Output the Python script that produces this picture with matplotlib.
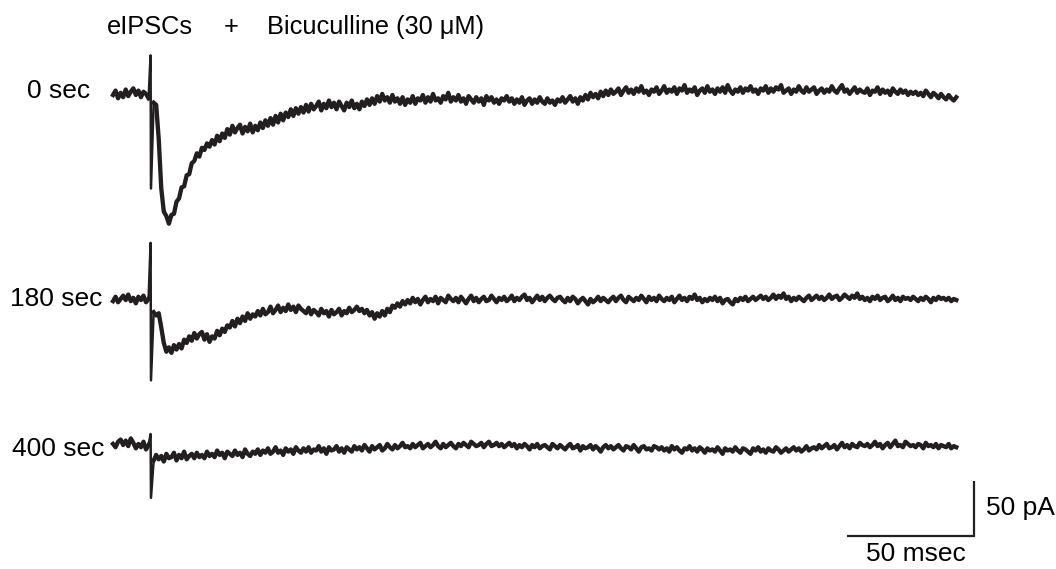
import numpy as np
import matplotlib
matplotlib.use("Agg")
from matplotlib import pyplot as plt

plt.rcParams['font.family'] = ['Liberation Sans', 'DejaVu Sans']

# sampling (ms) and stimulus time (ms)
dt = 1
stim_t = 14.8
post_start = 16
sweep_labels = ["0 sec", "180 sec", "400 sec"]

# pre-stimulus samples (t = 0..14 ms), pA relative to baseline
pre_0 = [0, 4, -3, 2, -2, 5, -1, 3, 6, 0, 4, -2, 3, 1, -3]
pre_180 = [-1, 3, -2, 1, 4, 0, 5, -1, 2, -3, 3, 0, 4, -2, 1]
pre_400 = [1, -2, 3, 5, 0, 4, -1, 6, 2, -3, 1, -2, 3, -4, 0]

# stimulus artefact (top, bottom), pA
art_0 = [36, -85]
art_180 = [52, -73]
art_400 = [10, -48]

# post-stimulus samples (t = 16..332 ms), pA
post_0 = [-7, -9, -40, -85, -106, -110, -117, -109, -108, -97, -94, -84, -83, -73, -72, -62, -60, -53, -56, -48,
          -50, -44, -47, -41, -45, -37, -42, -35, -39, -31, -36, -28, -34, -30, -27, -35, -29, -33, -26, -34,
          -28, -32, -25, -30, -23, -28, -21, -27, -19, -25, -17, -23, -16, -20, -13, -19, -12, -17, -11, -16,
          -9, -15, -8, -13, -10, -6, -14, -8, -12, -5, -11, -7, -13, -6, -10, -14, -7, -11, -5, -12,
          -8, -13, -6, -10, -4, -9, -3, -8, -1, -6, 1, -5, -2, -7, 0, -6, -3, -8, -2, -9,
          -4, -7, -1, -8, -3, -5, 0, -7, -2, -6, 1, -5, -3, -7, -1, -4, 2, -6, -2, -5,
          0, -6, -3, -8, -1, -4, -7, -2, -6, -3, -9, -1, -5, -2, -7, -4, -8, -3, -5, -1,
          -6, -3, -8, -4, -7, -2, -9, -5, -3, -8, -4, -7, -2, -6, -8, -3, -7, -5, -9, -4,
          -6, -2, -7, -4, -1, -6, -3, -8, -2, -5, 0, -4, 2, -2, 1, -3, 3, -1, 4, 0,
          5, 1, 3, 6, 0, 4, 7, 2, 5, 1, 6, 3, 8, 2, 4, 0, 5, 3, 7, 1,
          4, 8, 2, 5, 3, 7, 1, 6, 4, 9, 2, 5, 3, 7, 0, 4, 6, 2, 8, 3,
          5, 1, 6, 3, 7, 2, 9, 4, 1, 5, 3, 7, 2, 6, 4, 8, 3, 5, 1, 6,
          4, 8, 2, 6, 3, 7, 5, 9, 2, 4, 6, 1, 5, 3, 8, 4, 2, 7, 3, 5,
          7, 1, 4, 6, 2, 5, 3, 8, 4, 2, 6, 9, 3, 5, 1, 4, 7, 2, 5, 3,
          2, 6, 0, 4, 3, 7, 1, 5, 2, 4, 0, 6, 3, 1, 5, 2, 4, 0, 3, 1,
          3, 0, 2, -1, 4, 1, -2, 2, 0, -3, 1, -2, -4, 0, -3, -5, -2]
post_180 = [-11, -14, -12, -25, -39, -47, -43, -48, -41, -45, -40, -44, -36, -39, -33, -37, -30, -35, -31, -29,
            -36, -31, -38, -33, -35, -28, -32, -26, -29, -23, -25, -19, -24, -17, -21, -15, -19, -12, -17, -13,
            -15, -10, -14, -8, -13, -11, -6, -12, -9, -5, -11, -7, -10, -4, -9, -6, -11, -5, -8, -10,
            -12, -7, -13, -9, -11, -14, -8, -12, -10, -15, -9, -13, -11, -8, -14, -10, -12, -7, -11, -9,
            -6, -10, -8, -12, -9, -14, -11, -17, -12, -15, -10, -14, -8, -11, -5, -7, -3, -6, -1, -4,
            0, -3, 2, -2, 1, -4, 0, 3, -2, 1, -1, 3, -3, 2, 0, -2, 4, 1, -1, 2,
            -2, 3, 0, -3, 1, 4, -1, 2, -2, 1, 3, -1, 0, 4, 1, -2, 2, 0, 3, -1,
            1, 4, -1, 2, 0, 3, 5, 0, 2, -2, 1, 4, 0, 3, -1, 2, 4, 1, -1, 2,
            3, 0, -2, 2, -1, 3, 1, -3, 0, 2, -1, -4, 1, -2, 0, 3, -1, 2, 0, -2,
            1, 3, -1, 2, 4, 0, -2, 3, 1, -1, 2, 0, 4, 1, -2, 3, 0, 2, -1, 4,
            1, -1, 2, 0, 3, -2, 1, 4, 0, 2, -1, 3, 1, 5, 0, 2, -2, 1, -1, 2,
            0, 3, -1, 2, -3, 0, 1, -2, -4, 1, -1, 2, 0, 3, -1, 1, 3, 0, 2, 4,
            1, 3, 0, 2, 5, 1, 4, 2, 6, 1, 3, -1, 2, 0, 3, 1, -1, 2, 4, 0,
            2, 4, 1, 3, 0, 2, 5, 1, 3, 4, 0, 2, 5, 3, 1, 4, 2, 6, 1, 3,
            0, 2, -1, 3, 1, 4, 0, 2, 3, -1, 1, 4, 0, 2, -1, 3, 1, 2, 0, 3,
            1, -1, 2, 0, 3, 1, -2, 2, 0, 3, 1, 2, 0, 2, -1, 1, 0]
post_400 = [-14, -9, -13, -10, -15, -8, -12, -11, -7, -14, -9, -12, -6, -13, -10, -8, -12, -7, -11, -9,
            -12, -6, -10, -8, -11, -5, -9, -7, -12, -6, -8, -10, -5, -9, -7, -11, -4, -8, -10, -6,
            -8, -4, -9, -5, -7, -3, -8, -6, -2, -7, -5, -9, -3, -6, -4, -8, -2, -5, -7, -3,
            -6, -2, -7, -4, -5, -1, -6, -3, -8, -2, -5, -4, -1, -6, -3, -7, -2, -4, -6, -1,
            -4, -2, -5, 0, -3, -6, -1, -4, -2, 0, -5, -3, 1, -2, -4, 0, -3, -1, 2, -2,
            -1, -3, 1, -2, 0, 2, -3, -1, 1, -2, 0, 3, -1, -3, 1, -2, 0, 2, -1, -3,
            1, -1, 2, 0, -2, 3, 1, -1, 0, 2, -2, 1, 3, -1, 0, 2, -1, 1, -2, 0,
            2, -1, 1, -3, 0, -2, 1, -1, -4, 0, -2, 1, -3, -1, 0, -2, -4, 1, -1, -3,
            0, -2, -4, -1, 1, -3, -2, 0, -5, -1, -3, -2, 0, -4, -1, -3, -6, -2, 0, -3,
            -1, -4, -2, 0, -3, -5, -1, -2, -4, 0, -3, -6, -2, -1, -4, -3, -5, -1, -2, -4,
            -2, -5, -3, -6, -1, -4, -2, -5, -7, -3, -4, -1, -5, -3, -6, -2, -4, -7, -3, -5,
            -4, -6, -2, -5, -8, -3, -5, -4, -6, -2, -5, -7, -3, -4, -6, -8, -3, -5, -2, -6,
            -4, -7, -3, -5, -6, -2, -4, -7, -5, -3, -6, -4, -2, -5, -3, -6, -4, -1, -5, -3,
            -2, -4, 0, -3, -1, 1, -3, -2, 0, -4, -1, 2, -2, 0, -3, 1, -1, -2, 2, 0,
            -1, 1, -2, 0, 3, -1, 1, -3, 0, 2, -2, 1, 4, -1, 0, -2, 3, 1, -1, 0,
            -2, 1, 0, -3, 2, -1, 0, -2, 1, -3, 0, -1, -2, 1, -3, -1, -2]

# vertical offsets of sweeps in the montage (pA)
offsets = [430.9, 244.5, 112.7]
trace_color = "#231f20"

fig = plt.figure(figsize=(10.56, 5.69), dpi=100)
ax = fig.add_axes([0, 0, 1, 1])
ax.set_xlim(-44.49, 371.26)
ax.set_ylim(0, 517.27)
ax.axis("off")

sweeps = [(pre_0, art_0, post_0), (pre_180, art_180, post_180), (pre_400, art_400, post_400)]
for (pre, art, post), off in zip(sweeps, offsets):
    t_pre = np.arange(len(pre)) * dt
    t_post = post_start + np.arange(len(post)) * dt
    pre = np.array(pre) + off
    post = np.array(post) + off
    art = np.array(art) + off
    ax.plot(t_pre, pre, color=trace_color, lw=3.1, solid_joinstyle="round")
    # stimulus artefact: thin vertical stroke
    ax.plot([t_pre[-1], stim_t, stim_t + 0.15, t_post[0]],
            [pre[-1], art[0], art[1], post[0]], color=trace_color, lw=1.8)
    ax.plot(t_post, post, color=trace_color, lw=3.1, solid_joinstyle="round")

# scale bars: 50 ms, 50 pA
ax.plot([289, 339, 339], [30, 30, 80], color=trace_color, lw=1.6,
        solid_joinstyle="miter", solid_capstyle="butt")

fs = 19
fs_title = 18.3
fig.text(986 / 1056, 1 - 508 / 569, "50 pA", fontsize=fs, va="center", ha="left")
fig.text(916 / 1056, 1 - 554 / 569, "50 msec", fontsize=fs, va="center", ha="center")

fig.text(107 / 1056, 1 - 27 / 569, "eIPSCs", fontsize=fs_title, va="center", ha="left")
fig.text(231 / 1056, 1 - 27 / 569, "+", fontsize=fs_title, va="center", ha="center")
fig.text(267 / 1056, 1 - 27 / 569, "Bicuculline (30 \u03bcM)", fontsize=fs_title,
         va="center", ha="left")

label_pos = [(27, 91), (10, 299), (12, 449)]
for lab, (x, y) in zip(sweep_labels, label_pos):
    fig.text(x / 1056, 1 - y / 569, lab, fontsize=fs, va="center", ha="left")

fig.savefig("out.png", dpi=100, facecolor="white")
